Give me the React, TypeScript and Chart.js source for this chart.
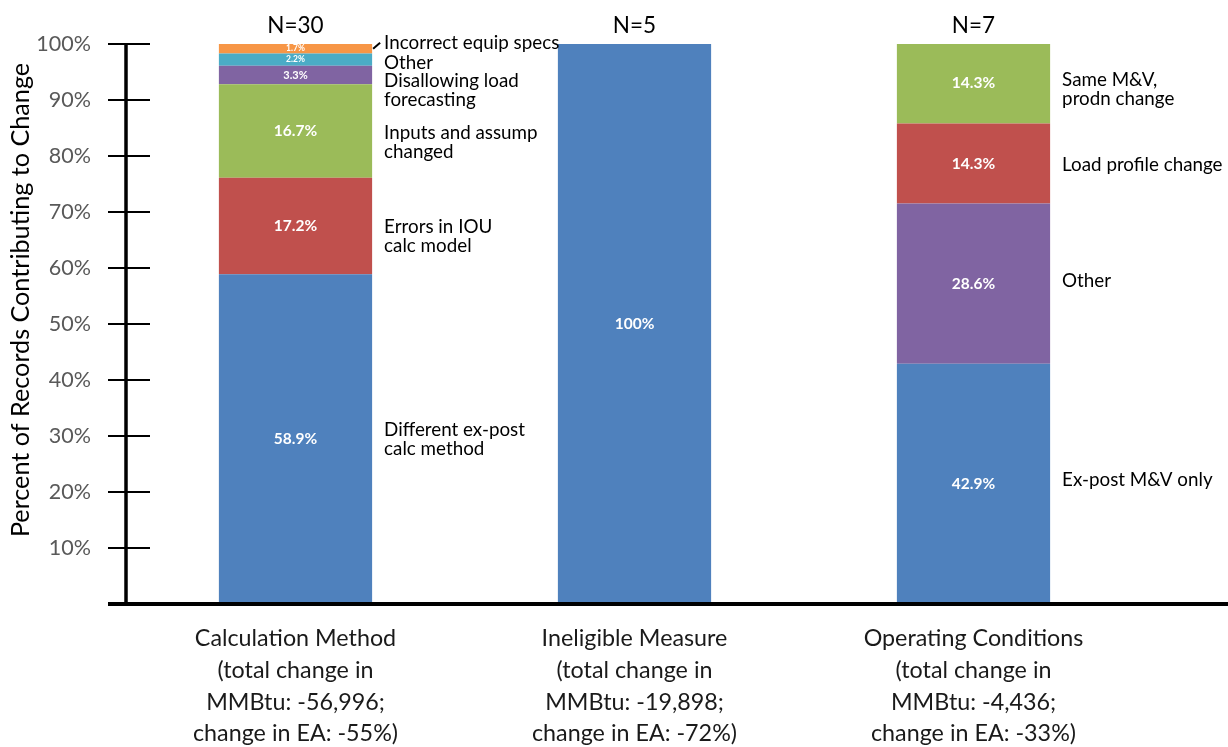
import React, { useEffect, useRef } from "react";
import { Chart, registerables } from "chart.js";

Chart.register(...registerables);

// Change categories, each drawn as one 100% stacked column
const categoryLabels: string[][] = [
  ["Calculation Method", "(total change in", "MMBtu: -56,996;", "change in EA: -55%)"],
  ["Ineligible Measure", "(total change in", "MMBtu: -19,898;", "change in EA: -72%)"],
  ["Operating Conditions", "(total change in", "MMBtu: -4,436;", "change in EA: -33%)"],
];

// Number of records per category
const recordCounts = [30, 5, 7];

// Share of records (%) per reason, bottom to top
const calcShares = [58.9, 17.2, 16.7, 3.3, 2.2, 1.7];
const ineligibleShares = [100];
const operatingShares = [42.9, 28.6, 14.3, 14.3];

// Reason names shown beside the columns
const calcReasons: string[][] = [
  ["Different ex-post", "calc method"],
  ["Errors in IOU", "calc model"],
  ["Inputs and assump", "changed"],
  ["Disallowing load", "forecasting"],
  ["Other"],
  ["Incorrect equip specs"],
];
const ineligibleReasons: string[][] = [];
const operatingReasons: string[][] = [
  ["Ex-post M&V only"],
  ["Other"],
  ["Load profile change"],
  ["Same M&V,", "prodn change"],
];

// Office palette
const BLUE = "#4F81BD";
const RED = "#C0504D";
const GREEN = "#9BBB59";
const PURPLE = "#8064A2";
const AQUA = "#4BACC6";
const ORANGE = "#F79646";

const segmentColors: string[][] = [
  [BLUE, RED, GREEN, PURPLE, AQUA, ORANGE],
  [BLUE],
  [BLUE, PURPLE, RED, GREEN],
];

// vertical nudges (px) for the reason labels so they don't collide
const reasonNudges: number[][] = [[0, 10, 11, 15, 3, -6], [], [-4, -3, 1, 6]];

const FONT = "Lato, 'Open Sans', sans-serif";

const sharesByCategory = [calcShares, ineligibleShares, operatingShares];
const reasonsByCategory = [calcReasons, ineligibleReasons, operatingReasons];

const overlayPlugin = {
  id: "overlay",
  afterDatasetsDraw(chart: any) {
    const { ctx, chartArea } = chart;
    const yScale = chart.scales.y;
    ctx.save();

    // value labels inside segments
    chart.data.datasets.forEach((ds: any, di: number) => {
      const meta = chart.getDatasetMeta(di);
      meta.data.forEach((bar: any, ci: number) => {
        const v = ds.data[ci];
        if (v == null) return;
        const h = Math.abs(bar.base - bar.y);
        const size = h < 15 ? 8.5 : h < 22 ? 11 : 15.5;
        ctx.font = `bold ${size}px ${FONT}`;
        ctx.fillStyle = "#ffffff";
        ctx.textAlign = "center";
        ctx.textBaseline = "middle";
        const txt = v === 100 ? "100%" : v.toFixed(1) + "%";
        ctx.fillText(txt, bar.x, (bar.y + bar.base) / 2);
      });
    });

    // reason labels to the right of each column
    const firstMeta = chart.getDatasetMeta(0);
    sharesByCategory.forEach((shares, ci) => {
      const col = firstMeta.data[ci];
      if (!col) return;
      const right = col.x + col.width / 2;
      let cum = 0;
      shares.forEach((s, si) => {
        const lines = reasonsByCategory[ci][si];
        const mid = yScale.getPixelForValue(cum + s / 2);
        cum += s;
        if (!lines) return;
        const nudge = reasonNudges[ci][si] || 0;
        const lh = 19;
        const y0 = mid + nudge - ((lines.length - 1) * lh) / 2;
        ctx.font = `18.8px ${FONT}`;
        ctx.fillStyle = "#000000";
        ctx.textAlign = "left";
        ctx.textBaseline = "middle";
        lines.forEach((ln, li) => ctx.fillText(ln, right + 12, y0 + li * lh));
        if (nudge < 0 && ci === 0) {
          ctx.strokeStyle = "#000000";
          ctx.lineWidth = 2;
          ctx.beginPath();
          ctx.moveTo(right + 1, mid);
          ctx.lineTo(right + 8, mid + nudge);
          ctx.stroke();
        }
      });
    });

    // record counts above columns
    ctx.font = `22.5px ${FONT}`;
    ctx.fillStyle = "#000000";
    ctx.textAlign = "center";
    ctx.textBaseline = "middle";
    recordCounts.forEach((n, ci) => {
      const col = firstMeta.data[ci];
      if (col) ctx.fillText(`N=${n}`, col.x, chartArea.top - 18);
    });

    // axes with cross ticks
    ctx.strokeStyle = "#000000";
    ctx.lineWidth = 2;
    yScale.ticks.forEach((t: any) => {
      const y = Math.round(yScale.getPixelForValue(t.value));
      ctx.beginPath();
      ctx.moveTo(chartArea.left - 18, y);
      ctx.lineTo(chartArea.left + 24, y);
      ctx.stroke();
    });
    ctx.lineWidth = 3.5;
    ctx.beginPath();
    ctx.moveTo(chartArea.left, chartArea.top);
    ctx.lineTo(chartArea.left, chartArea.bottom);
    ctx.stroke();
    ctx.lineWidth = 4;
    ctx.beginPath();
    ctx.moveTo(chartArea.left - 18, chartArea.bottom);
    ctx.lineTo(chart.width, chartArea.bottom);
    ctx.stroke();

    // y axis title
    ctx.save();
    ctx.translate(21, 300);
    ctx.rotate(-Math.PI / 2);
    ctx.font = `25.2px ${FONT}`;
    ctx.fillStyle = "#000000";
    ctx.textAlign = "center";
    ctx.textBaseline = "middle";
    ctx.fillText("Percent of Records Contributing to Change", 0, 0);
    ctx.restore();

    ctx.restore();
  },
};

export default function App() {
  const canvasRef = useRef<HTMLCanvasElement | null>(null);

  useEffect(() => {
    if (!canvasRef.current) return;
    const levels = Math.max(...sharesByCategory.map((s) => s.length));
    const datasets = Array.from({ length: levels }, (_, li) => ({
      label: `level ${li + 1}`,
      data: sharesByCategory.map((s) => (s[li] ?? null) as number | null),
      backgroundColor: segmentColors.map((c) => c[li] ?? "transparent"),
      borderWidth: 0,
      categoryPercentage: 1,
      barPercentage: 0.452,
    }));

    const chart = new Chart(canvasRef.current, {
      type: "bar",
      data: { labels: categoryLabels as any, datasets },
      options: {
        animation: false,
        responsive: true,
        maintainAspectRatio: false,
        layout: { padding: { left: 0, top: 44, right: 85, bottom: 0 } },
        plugins: { legend: { display: false }, tooltip: { enabled: false } },
        scales: {
          x: {
            stacked: true,
            grid: { display: false, drawTicks: false },
            border: { display: false },
            ticks: {
              color: "#1a1a1a",
              font: { family: FONT, size: 23.3, lineHeight: 1.373 },
              padding: 18,
              maxRotation: 0,
              autoSkip: false,
            },
            afterFit: (scale: any) => {
              scale.height = 143;
              scale.paddingLeft = 0;
              scale.paddingRight = 0;
            },
          },
          y: {
            stacked: true,
            min: 0,
            max: 100,
            grid: { display: false, drawTicks: false },
            border: { display: false },
            ticks: {
              stepSize: 10,
              color: "#595959",
              font: { family: FONT, size: 21.5 },
              padding: 35,
              callback: (v: any) => (v === 0 ? "" : `${v}%`),
            },
            afterFit: (scale: any) => {
              scale.width = 126;
              scale.paddingTop = 0;
              scale.paddingBottom = 0;
            },
          },
        },
      },
      plugins: [overlayPlugin],
    });
    return () => chart.destroy();
  }, []);

  return (
    <div style={{ position: "fixed", left: 0, top: 0, width: 1228, height: 747, background: "#fff" }}>
      <canvas ref={canvasRef} />
    </div>
  );
}
